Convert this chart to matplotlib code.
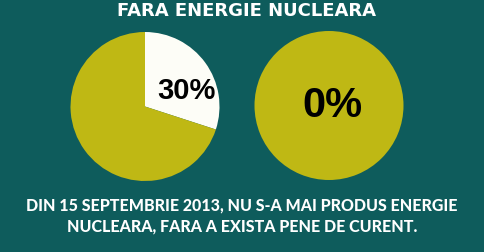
import matplotlib.pyplot as plt

bg = "#0e5c5c"
olive = "#bfb814"
white = "#fdfdf7"

title = "FARA ENERGIE NUCLEARA"
caption = ["DIN 15 SEPTEMBRIE 2013, NU S-A MAI PRODUS ENERGIE",
           "NUCLEARA, FARA A EXISTA PENE DE CURENT."]
nuclear = [30, 0]
labels = ["30%", "0%"]

W, H = 484, 252
fig = plt.figure(figsize=(W / 100, H / 100), dpi=100)
fig.patch.set_facecolor(bg)

# pie centres (pixels from top-left) and radius
centres = [(145, 106.5), (329, 105.5)]
r = 74.5
label_pos = [(0.55, 0.21), (0.04, -0.01)]
label_size = [21, 30]

for i, (cx, cy) in enumerate(centres):
    ax = fig.add_axes([(cx - r) / W, (H - cy - r) / H, 2 * r / W, 2 * r / H])
    vals = [nuclear[i], 100 - nuclear[i]]
    ax.pie(vals, colors=[white, olive], startangle=90, counterclock=False,
           radius=1, wedgeprops=dict(linewidth=0))
    ax.set_xlim(-1, 1)
    ax.set_ylim(-1, 1)
    ax.set_aspect("equal")
    ax.axis("off")
    lx, ly = label_pos[i]
    ax.text(lx, ly, labels[i], ha="center", va="center", fontsize=label_size[i],
            fontweight="bold", color="black", family="Liberation Sans")

fig.text(0.51, 1 - 10.5 / H, title, ha="center", va="center", color="white",
         fontsize=13, fontweight="bold")
fig.text(0.5, 1 - 205.5 / H, caption[0], ha="center", va="center", color="white",
         fontsize=11.5, fontweight="black", family=["Lato", "DejaVu Sans"])
fig.text(0.5, 1 - 226 / H, caption[1], ha="center", va="center", color="white",
         fontsize=11.5, fontweight="black", family=["Lato", "DejaVu Sans"])

fig.savefig("out.png", dpi=100, facecolor=bg)
